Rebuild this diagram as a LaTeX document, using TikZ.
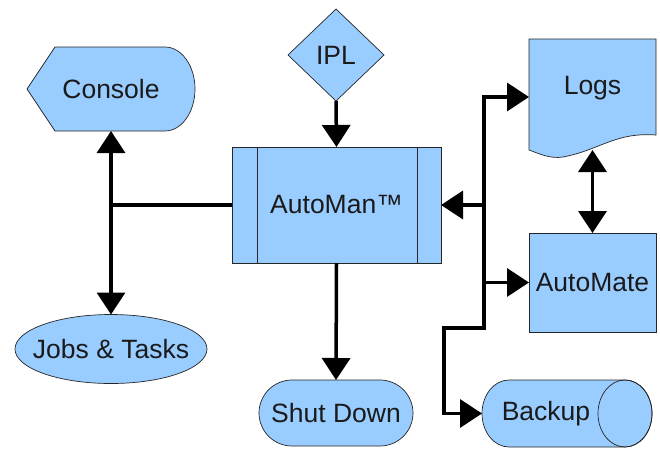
\documentclass[tikz,border=0pt]{standalone}
\usepackage{fontspec}
\setmainfont{Liberation Sans}
\usetikzlibrary{shapes.geometric,shapes.misc,arrows.meta}
\newcommand*\labelsize{\fontsize{26.5}{31}\selectfont}
\newcommand*\flowwidth{3.5pt}
\definecolor{boxblue}{HTML}{99CCFF}
\definecolor{inkgray}{HTML}{1A1A1A}
\pgfdeclarelayer{background}
\pgfsetlayers{background,main}
\tikzset{
    outline/.style  = {draw=black!85, fill=boxblue, line width=0.7pt},
    plainbox/.style = {inner sep=0pt, outer sep=0pt, text=inkgray, font=\labelsize},
    box/.style      = {plainbox, outline},
    decisionbox/.style = {box, diamond, minimum width=96pt, minimum height=92pt},
    processbox/.style  = {box, rectangle, minimum width=209pt, minimum height=116pt,
                    path picture={
                        \draw[black!85, line width=0.7pt]
                            ([xshift=25pt]path picture bounding box.north west) -- ([xshift=25pt]path picture bounding box.south west)
                            ([xshift=-24pt]path picture bounding box.north east) -- ([xshift=-24pt]path picture bounding box.south east);
                    }},
    jobbox/.style   = {box, ellipse, minimum width=192pt, minimum height=69pt},
    stopbox/.style  = {box, rounded rectangle, minimum width=154pt, minimum height=66pt},
    flow/.style     = {line width=\flowwidth, >={Triangle[width=28pt,length=22pt]}},
  }

\begin{document}
\begin{tikzpicture}[x=1pt,y=-1pt]
        \useasboundingbox (0,0) rectangle (660,450);

        % Nodes
        \node[plainbox, minimum width=168pt, minimum height=84pt] (console) at (111,89) {Console};
        \node[decisionbox] (ipl) at (336,55) {IPL};
        \node[processbox] (automan) at (336.5,205) {AutoMan™};
        \node[plainbox, minimum width=127pt, minimum height=98pt] (logs) at (592.5,88) {Logs};
        \node[jobbox] (jobs) at (111,349) {\makebox[0pt]{Jobs \& Tasks}};
        \node[stopbox] (shutdown) at (336,413) {\makebox[0pt]{Shut Down}};
        \node[box, minimum width=127pt, minimum height=99pt] (automate) at (592.5,282.5) {AutoMate};
        \node[plainbox, minimum width=170pt, minimum height=67pt] (backup) at (567,413.5) {\makebox[0pt]{Backup\hspace{42pt}}};

        % Outlines of the display, document and storage shapes, behind their text
        \begin{pgfonlayer}{background}
            \draw[outline] (console.west) -- ([xshift=28pt]console.north west)
                -- ([xshift=-30pt]console.north east) arc[start angle=90, end angle=-90, x radius=30pt, y radius=42pt]
                -- ([xshift=28pt]console.south west) -- cycle;
            \draw[outline] ([yshift=-13pt]logs.south west) -- (logs.north west) -- (logs.north east)
                -- ([yshift=2pt]logs.south east) .. controls (615,132) and (600,150) .. (563,157)
                .. controls (550,159) and (540,154) .. ([yshift=-13pt]logs.south west) -- cycle;
            \draw[outline] ([xshift=27pt]backup.north west) -- ([xshift=-27pt]backup.north east)
                arc[start angle=90, end angle=-90, x radius=27pt, y radius=33.5pt]
                -- ([xshift=27pt]backup.south west)
                arc[start angle=270, end angle=90, x radius=27pt, y radius=33.5pt] -- cycle;
            \draw[outline, fill=none] ([xshift=-27pt]backup.east) ellipse[x radius=27pt, y radius=33.5pt];
        \end{pgfonlayer}

        % Connectors
        \coordinate (lj) at (console.south |- automan.west);
        \coordinate (rb) at (484,328);
        \coordinate (rbw) at (444,328);
        \draw[flow,->] (ipl.south) -- (automan.north);
        \draw[flow,->] (automan.south) -- (shutdown.north);
        \draw[flow] (automan.west) -- (lj);
        \draw[flow,<->] (console.south) -- (jobs.north);
        \draw[flow,<->] ([yshift=-9pt]logs.west) -| (rb) -- (rbw) |- (backup.west);
        \draw[flow,->] (rb |- automan.east) -- (automan.east);
        \draw[flow,->] (rb |- automate.west) -- (automate.west);
        \draw[flow,<->] ([yshift=-13pt]logs.south) -- (automate.north);
    \end{tikzpicture}
\end{document}
